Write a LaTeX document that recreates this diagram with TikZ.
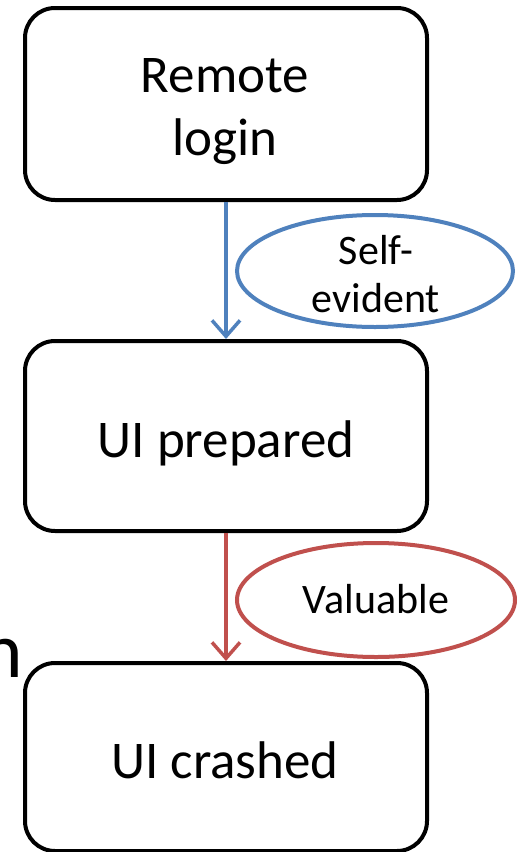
\documentclass[tikz,border=0pt]{standalone}
\usepackage{fontspec}
\setmainfont{Carlito}
\usetikzlibrary{shapes.geometric,arrows.meta}
\definecolor{accblue}{HTML}{4F81BD}
\definecolor{accred}{HTML}{C0504D}
\begin{document}
\begin{tikzpicture}[x=1pt,y=-1pt,
  statebox/.style={draw=black,line width=4pt,rounded corners=30pt,
    minimum width=402pt,inner sep=0pt},
  boxtext/.style={anchor=base,inner sep=0pt,font=\fontsize{53}{63}\selectfont},
  tag/.style={ellipse,line width=4pt,inner sep=0pt,
    minimum width=276pt,minimum height=112pt},
  tagtext/.style={anchor=base,inner sep=0pt,font=\fontsize{42}{49}\selectfont},
  flow/.style={line width=3.5pt,-{Straight Barb[length=16pt,width=28pt,line width=3.5pt]}}]
\useasboundingbox (0,0) rectangle (521,852);
% process states
\node[statebox,minimum height=192pt] (login) at (226,104) {};
\node[statebox,minimum height=190pt] (prep) at (226,436) {};
\node[statebox,minimum height=188pt] (crash) at (226,757) {};
\node[boxtext] (loginA) at (225,92) {Remote};
\node[boxtext] (loginB) at (225,155) {login};
\node[boxtext] (prepT) at (226,457) {UI prepared};
\node[boxtext] (crashT) at (225,778) {UI crashed};
% transition labels
\node[tag,draw=accblue] (self) at (375,271) {};
\node[tag,draw=accred,minimum width=278pt,minimum height=114pt] (val) at (376,600) {};
\node[tagtext] (selfA) at (376,264) {Self-};
\node[tagtext] (selfB) at (376,312) {evident};
\node[tagtext] (valT) at (376,613) {Valuable};
% transitions
\draw[flow,accblue] (login.south) -- (prep.north);
\draw[flow,accred] (prep.south) -- (crash.north);
% stray letter at the left edge
\node[anchor=base east,inner sep=0pt,font=\fontsize{79}{90}\selectfont] (frag) at (23,677) {n};
\end{tikzpicture}
\end{document}
